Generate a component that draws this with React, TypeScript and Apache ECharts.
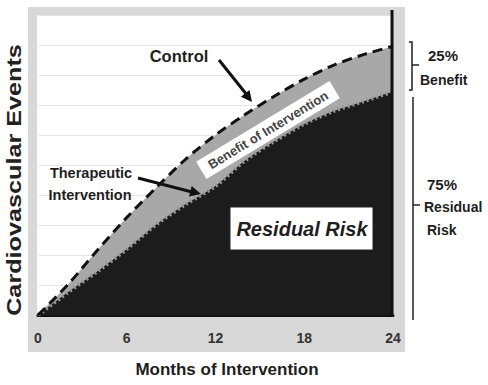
import React, { useEffect, useRef } from "react";
import * as echarts from "echarts";

const months = [0, 2, 4, 6, 8, 10, 12, 14, 16, 18, 20, 22, 24];
const control = [0, 1.0, 2.15, 3.25, 4.25, 5.2, 6.0, 6.68, 7.3, 7.86, 8.33, 8.68, 8.96];
const intervention = [0, 0.75, 1.45, 2.2, 3.02, 3.7, 4.3, 5.15, 5.8, 6.37, 6.8, 7.12, 7.45];
const xTicks = [0, 6, 12, 18, 24];

const SANS = "'Liberation Sans', Arial, Helvetica, sans-serif";

export default function App() {
  const ref = useRef<HTMLDivElement>(null);
  useEffect(() => {
    if (!ref.current) return;
    const chart = echarts.init(ref.current, undefined, { renderer: "svg" });
    const ctrlData = months.map((m, i) => [m, control[i]]);
    const intData = months.map((m, i) => [m, intervention[i]]);
    const arrowHead = (tip: number[], from: number[], len = 11, half = 5.5) => {
      const dx = tip[0] - from[0];
      const dy = tip[1] - from[1];
      const d = Math.sqrt(dx * dx + dy * dy);
      const ux = dx / d, uy = dy / d;
      const bx = tip[0] - ux * len, by = tip[1] - uy * len;
      return [tip, [bx - uy * half, by + ux * half], [bx + uy * half, by - ux * half]];
    };
    const t1 = [252, 102], f1 = [219, 60];
    const t2 = [201, 194], f2 = [138, 178];
    const txt = (text: string, x: number, y: number, size: number, align = "center", extra = "bold") => ({
      type: "text", x, y, z: 100,
      style: { text, font: `${extra} ${size}px ${SANS}`, fill: "#1e1e1e", textAlign: align, textVerticalAlign: "middle" },
    });
    chart.setOption({
      animation: false,
      backgroundColor: "#ffffff",
      grid: { left: 38, right: 95, top: 15, bottom: 70 },
      xAxis: {
        type: "value", min: 0, max: 24, interval: 6,
        axisLine: { show: true, lineStyle: { color: "#111", width: 3 } },
        axisTick: { show: false },
        splitLine: { show: false },
        axisLabel: {
          margin: 16, fontSize: 14, fontWeight: "bold", color: "#333", fontFamily: SANS,
          formatter: (v: number) => (xTicks.includes(v) ? String(v) : ""),
        },
      },
      yAxis: {
        type: "value", min: 0, max: 10, interval: 1,
        axisLine: { show: false }, axisTick: { show: false }, axisLabel: { show: false },
        splitLine: { show: true, lineStyle: { color: "#e4e4e4", width: 1 } },
      },
      series: [
        {
          type: "line", data: ctrlData, smooth: 0.3, symbol: "none", z: 1,
          lineStyle: { width: 0, color: "#a8a8a8" },
          areaStyle: { color: "#a8a8a8", opacity: 1 },
        },
        {
          type: "line", data: intData, smooth: 0.3, symbol: "none", z: 2,
          lineStyle: { width: 4, color: "#9a9a9a", type: [2, 3] },
          areaStyle: { color: "#1c1c1c", opacity: 1 },
        },
        {
          type: "line", data: ctrlData, smooth: 0.3, symbol: "none", z: 3,
          lineStyle: { width: 3, color: "#111", type: [10, 6] },
        },
      ],
      graphic: [
        { type: "rect", z: -10, shape: { x: 28, y: 7, width: 377, height: 345 }, style: { fill: "#d8d8d8" } },
        { type: "rect", z: -9, shape: { x: 37, y: 15, width: 356, height: 300 }, style: { fill: "#ffffff" } },
        { type: "line", z: 50, shape: { x1: 392, y1: 10, x2: 392, y2: 316 }, style: { stroke: "#111", lineWidth: 3 } },
        {
          type: "text", x: 14, y: 180, rotation: Math.PI / 2, scaleX: 1.2, z: 100,
          style: { text: "Cardiovascular Events", font: `bold 21px ${SANS}`, fill: "#222", textAlign: "center", textVerticalAlign: "middle" },
        },
        txt("Months of Intervention", 227, 369, 17),
        txt("Control", 179, 56, 16.5),
        { type: "line", z: 100, shape: { x1: f1[0], y1: f1[1], x2: 247, y2: 95 }, style: { stroke: "#111", lineWidth: 3 } },
        { type: "polygon", z: 100, shape: { points: arrowHead(t1, f1) }, style: { fill: "#111" } },
        txt("Therapeutic", 91, 173, 14.5),
        txt("Intervention", 90, 195, 14.5),
        { type: "line", z: 100, shape: { x1: f2[0], y1: f2[1], x2: 192, y2: 192 }, style: { stroke: "#111", lineWidth: 3 } },
        { type: "polygon", z: 100, shape: { points: arrowHead(t2, f2) }, style: { fill: "#111" } },
        {
          type: "group", x: 268, y: 130, rotation: 0.545, z: 100,
          children: [
            { type: "rect", z: 100, shape: { x: -78, y: -10, width: 156, height: 20 }, style: { fill: "#ffffff" } },
            {
              type: "text", z: 101, x: 0, y: 0,
              style: { text: "Benefit of Intervention", font: `bold 13px ${SANS}`, fill: "#444", textAlign: "center", textVerticalAlign: "middle" },
            },
          ],
        },
        { type: "rect", z: 100, shape: { x: 230, y: 207, width: 143, height: 43 }, style: { fill: "#ffffff", stroke: "#222", lineWidth: 1 } },
        txt("Residual Risk", 302, 229, 20, "center", "italic bold"),
        {
          type: "polyline", z: 100,
          shape: { points: [[409, 42], [412, 42], [412, 90], [409, 90]] },
          style: { stroke: "#222", lineWidth: 1.5, fill: "none" },
        },
        { type: "line", z: 100, shape: { x1: 412, y1: 65, x2: 419, y2: 65 }, style: { stroke: "#222", lineWidth: 1.5 } },
        { type: "line", z: 100, shape: { x1: 413, y1: 97, x2: 413, y2: 320 }, style: { stroke: "#222", lineWidth: 1.5 } },
        { type: "line", z: 100, shape: { x1: 413, y1: 205, x2: 420, y2: 205 }, style: { stroke: "#222", lineWidth: 1.5 } },
        txt("25%", 428, 55, 15, "left"),
        txt("Benefit", 420, 80, 14, "left"),
        txt("75%", 427, 184, 15, "left"),
        txt("Residual", 424, 207, 14, "left"),
        txt("Risk", 427, 230, 14, "left"),
      ],
    });
    return () => chart.dispose();
  }, []);
  return <div ref={ref} style={{ position: "absolute", left: 0, top: 0, width: 488, height: 385 }} />;
}
